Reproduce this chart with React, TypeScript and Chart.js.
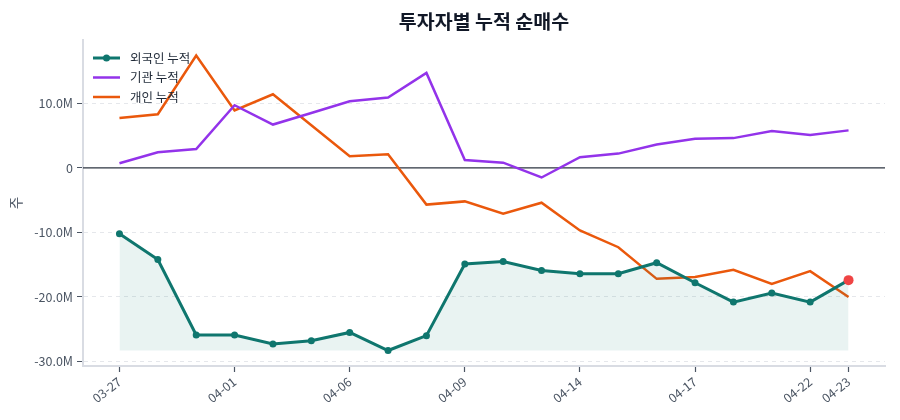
import React, { useEffect, useRef } from "react";
import { Chart, registerables } from "chart.js";

Chart.register(...registerables);

const dates = ["03-27","03-30","03-31","04-01","04-02","04-03","04-06","04-07","04-08","04-09","04-10","04-13","04-14","04-15","04-16","04-17","04-20","04-21","04-22","04-23"];
const shownTickIdx = [0, 3, 6, 9, 12, 15, 18, 19];
const foreignCum = [-10200000,-14200000,-25900000,-25900000,-27300000,-26800000,-25500000,-28300000,-26000000,-14900000,-14500000,-15900000,-16400000,-16400000,-14700000,-17800000,-20800000,-19400000,-20800000,-17400000];
const instCum = [700000,2400000,2900000,9700000,6700000,8500000,10300000,10900000,14700000,1200000,800000,-1500000,1650000,2200000,3600000,4500000,4600000,5700000,5100000,5800000];
const retailCum = [7700000,8300000,17400000,8900000,11400000,6600000,1800000,2100000,-5700000,-5200000,-7100000,-5400000,-9700000,-12300000,-17200000,-16900000,-15800000,-18000000,-16000000,-20000000];
const seriesNames = ["외국인 누적", "기관 누적", "개인 누적"];
const yTicks = [-30000000, -20000000, -10000000, 0, 10000000];

const FONT = '"Noto Sans CJK KR", "Noto Sans", sans-serif';
const TEAL = "#0f766e";
const PURPLE = "#9333ea";
const ORANGE = "#ea580c";
const RED = "#ef4444";

export default function App() {
  const ref = useRef<HTMLCanvasElement>(null);
  useEffect(() => {
    const canvas = ref.current!;
    const pts = (arr: number[]) => arr.map((v, i) => ({ x: i, y: v }));
    const foreignMin = Math.min(...foreignCum);
    const last = foreignCum.length - 1;

    const overlay = {
      id: "overlay",
      beforeDatasetsDraw(chart: any) {
        const { ctx, chartArea, scales } = chart;
        const y0 = scales.y.getPixelForValue(0);
        ctx.save();
        ctx.strokeStyle = "#2d3440";
        ctx.lineWidth = 1.2;
        ctx.beginPath();
        ctx.moveTo(chartArea.left, y0);
        ctx.lineTo(chartArea.right, y0);
        ctx.stroke();
        ctx.restore();
      },
      afterDraw(chart: any) {
        const { ctx, chartArea } = chart;
        ctx.save();
        ctx.fillStyle = "#111827";
        ctx.font = `bold 19.5px ${FONT}`;
        ctx.textAlign = "center";
        ctx.textBaseline = "middle";
        ctx.fillText("투자자별 누적 순매수", (chartArea.left + chartArea.right) / 2, 22);
        const colors = [TEAL, PURPLE, ORANGE];
        const x0 = chartArea.left + 10;
        seriesNames.forEach((name, i) => {
          const yy = chartArea.top + 18 + i * 19.5;
          ctx.strokeStyle = colors[i];
          ctx.lineWidth = i === 0 ? 3 : 2.5;
          ctx.beginPath();
          ctx.moveTo(x0, yy);
          ctx.lineTo(x0 + 27, yy);
          ctx.stroke();
          if (i === 0) {
            ctx.fillStyle = colors[i];
            ctx.beginPath();
            ctx.arc(x0 + 13.5, yy, 3.5, 0, Math.PI * 2);
            ctx.fill();
          }
          ctx.fillStyle = "#1f2937";
          ctx.font = `12.5px ${FONT}`;
          ctx.textAlign = "left";
          ctx.textBaseline = "middle";
          ctx.fillText(name, x0 + 37, yy);
        });
        ctx.restore();
      },
    };

    const chart = new Chart(canvas, {
      type: "line",
      data: {
        datasets: [
          {
            label: seriesNames[1],
            data: pts(instCum),
            borderColor: PURPLE,
            borderWidth: 2.5,
            pointRadius: 0,
            tension: 0,
            order: 2,
          },
          {
            label: seriesNames[2],
            data: pts(retailCum),
            borderColor: ORANGE,
            borderWidth: 2.5,
            pointRadius: 0,
            tension: 0,
            order: 3,
          },
          {
            label: seriesNames[0],
            data: pts(foreignCum),
            borderColor: TEAL,
            backgroundColor: "rgba(15,118,110,0.09)",
            fill: { value: foreignMin },
            borderWidth: 3,
            pointRadius: foreignCum.map((_, i) => (i === last ? 5 : 3.5)),
            pointBackgroundColor: foreignCum.map((_, i) => (i === last ? RED : TEAL)),
            pointBorderColor: foreignCum.map((_, i) => (i === last ? RED : TEAL)),
            pointBorderWidth: 0,
            tension: 0,
            order: 1,
          },
        ],
      },
      options: {
        animation: false,
        responsive: false,
        layout: { padding: { top: 40, left: 8, right: 15, bottom: 0 } },
        plugins: {
          legend: { display: false },
          title: { display: false },
          tooltip: { enabled: false },
        },
        scales: {
          x: {
            type: "linear",
            min: -0.95,
            max: 19.95,
            afterBuildTicks: (s: any) => {
              s.ticks = shownTickIdx.map((v) => ({ value: v }));
            },
            afterFit: (s: any) => {
              s.height = 54;
            },
            ticks: {
              autoSkip: false,
              minRotation: 38,
              maxRotation: 38,
              color: "#4b5563",
              font: { family: FONT, size: 12.5 },
              padding: 2,
              callback: (v: any) => dates[v as number] ?? "",
            },
            grid: {
              drawOnChartArea: false,
              drawTicks: true,
              tickLength: 6,
              tickColor: "#4b5563",
              tickWidth: 1.2,
            },
            border: { color: "#d9dce3", width: 2 },
          },
          y: {
            min: -30700000,
            max: 19800000,
            afterBuildTicks: (s: any) => {
              s.ticks = yTicks.map((v) => ({ value: v }));
            },
            afterFit: (s: any) => {
              s.width = 75;
            },
            ticks: {
              color: "#4b5563",
              font: { family: FONT, size: 12.5 },
              padding: 4,
              callback: (v: any) => (v === 0 ? "0" : (v / 1e6).toFixed(1) + "M"),
            },
            grid: {
              color: (c: any) => (c.tick && c.tick.value === 0 ? "rgba(0,0,0,0)" : "#e5e7eb"),
              lineWidth: 1,
              drawTicks: true,
              tickLength: 6,
              tickColor: "#4b5563",
            },
            border: { color: "#d9dce3", width: 2, dash: [4, 4] },
            title: {
              display: true,
              text: "주",
              color: "#4b5563",
              font: { family: FONT, size: 13.5 },
              padding: { top: 0, bottom: 4 },
            },
          },
        },
      },
      plugins: [overlay],
    } as any);
    return () => chart.destroy();
  }, []);

  return (
    <div style={{ position: "fixed", left: 0, top: 0, width: 900, height: 420, background: "#fff" }}>
      <canvas ref={ref} width={900} height={420} style={{ width: 900, height: 420 }} />
    </div>
  );
}
